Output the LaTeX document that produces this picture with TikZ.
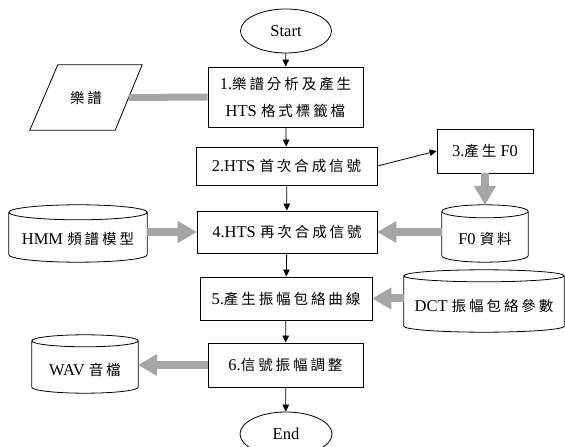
\documentclass[tikz,border=0pt]{standalone}
\usepackage{fontspec}
\setmainfont{Liberation Serif}
\newfontfamily\cjkfont[Scale=0.88,LetterSpace=20]{Noto Sans CJK TC}
\usetikzlibrary{arrows.meta,shapes.geometric,calc}
\definecolor{arrgray}{RGB}{166,166,166}
\newcommand{\cj}[1]{{\cjkfont #1}}
\newcommand{\drawcyl}[2]{%
  \draw[line width=0.8pt] let \p1=(#1.north west), \p2=(#1.south east), \n1={(\x2-\x1)/2} in
    (\x1,\y1-#2) -- (\x1,\y2+#2) arc[start angle=180,end angle=360,x radius=\n1,y radius=#2] -- (\x2,\y1-#2)
    ({(\x1+\x2)/2},\y1-#2) ellipse[x radius=\n1,y radius=#2];
}
\tikzset{
  base/.style={font=\fontsize{16.5}{27}\selectfont, inner sep=0pt, align=center},
  term/.style={base, ellipse, draw, line width=0.8pt, minimum width=91pt, minimum height=44pt},
  proc/.style={base, rectangle, draw, line width=0.8pt},
  cylbox/.style={base, rectangle, draw=none},
  cyltext/.style={base},
  flow/.style={draw, line width=0.8pt, -{Triangle[length=7pt,width=6.5pt]}},
  garrow/.style={draw=arrgray, line width=8pt, -{Triangle[length=19pt,width=22pt,line width=0.5pt]}},
  gline/.style={draw=arrgray, line width=7pt},
}
\begin{document}
\begin{tikzpicture}[x=1pt,y=1pt]
\useasboundingbox (0,0) rectangle (565,447);
\clip (0,0) rectangle (565,447);
% main column
\node[term] (start) at (286,416) {Start};
\node[proc, minimum width=155pt, minimum height=60pt] (b1) at (285.5,350) {1.\cj{樂譜分析及產生}\\HTS \cj{格式標籤檔}};
\node[proc, minimum width=181pt, minimum height=38pt] (b2) at (286.5,281) {2.HTS \cj{首次合成信號}};
\node[proc, minimum width=96pt, minimum height=44pt] (b3) at (485,296) {3.\cj{產生} F0};
\node[proc, minimum width=180pt, minimum height=42pt] (b4) at (287,215) {4.HTS \cj{再次合成信號}};
\node[proc, minimum width=172pt, minimum height=43pt] (b5) at (286,148.5) {5.\cj{產生振幅包絡曲線}};
\node[proc, minimum width=155pt, minimum height=44pt] (b6) at (285.5,82) {6.\cj{信號振幅調整}};
\node[term, minimum width=92pt] (end) at (286,13) {End};
% score parallelogram
\node[cylbox, minimum width=112pt, minimum height=65pt] (score) at (86,349.5) {};
\draw[line width=0.8pt] ($(score.north west)+(28,0)$) -- (score.north east) -- ($(score.south east)+(-27,0)$) -- (score.south west) -- cycle;
\node[cyltext] (scoret) at (score.center) {\cj{樂譜}};
\coordinate (scoreE) at ($(score.east)+(-13.5,0)$);
% cylinders
\node[cylbox, minimum width=138pt, minimum height=57pt] (hmm) at (78,213.5) {};
\drawcyl{hmm}{7.5pt}
\node[cyltext] (hmmt) at ($(hmm.center)+(0,-5)$) {HMM \cj{頻譜模型}};
\node[cylbox, minimum width=86pt, minimum height=57pt] (f0) at (485,213.5) {};
\drawcyl{f0}{6.5pt}
\node[cyltext] (f0t) at ($(f0.center)+(0,-5)$) {F0 \cj{資料}};
\node[cylbox, minimum width=160pt, minimum height=62pt] (dct) at (484,146) {};
\drawcyl{dct}{6pt}
\node[cyltext] (dctt) at ($(dct.center)+(0,-5)$) {DCT \cj{振幅包絡參數}};
\node[cylbox, minimum width=106pt, minimum height=58pt] (wav) at (85,83) {};
\drawcyl{wav}{6pt}
\node[cyltext] (wavt) at ($(wav.center)+(0,-6)$) {WAV \cj{音檔}};
% black flow arrows
\draw[flow] (start) -- (b1);
\draw[flow] (b1) -- (b2);
\draw[flow] (b2) -- (b4);
\draw[flow] (b4) -- (b5);
\draw[flow] (b5) -- (b6);
\draw[flow] (b6) -- (end);
\draw[flow] (b2.east) -- (b3.west);
% gray arrows
\draw[gline] (scoreE) -- (b1.west);
\draw[garrow] (b3.south) -- (f0.north);
\draw[garrow] (f0.west |- b4.east) -- (b4.east);
\draw[garrow] (hmm.east |- b4.west) -- (b4.west);
\draw[garrow] (dct.west |- b5.east) -- (b5.east);
\draw[garrow] (b6.west) -- (wav.east |- b6.west);
\end{tikzpicture}
\end{document}
